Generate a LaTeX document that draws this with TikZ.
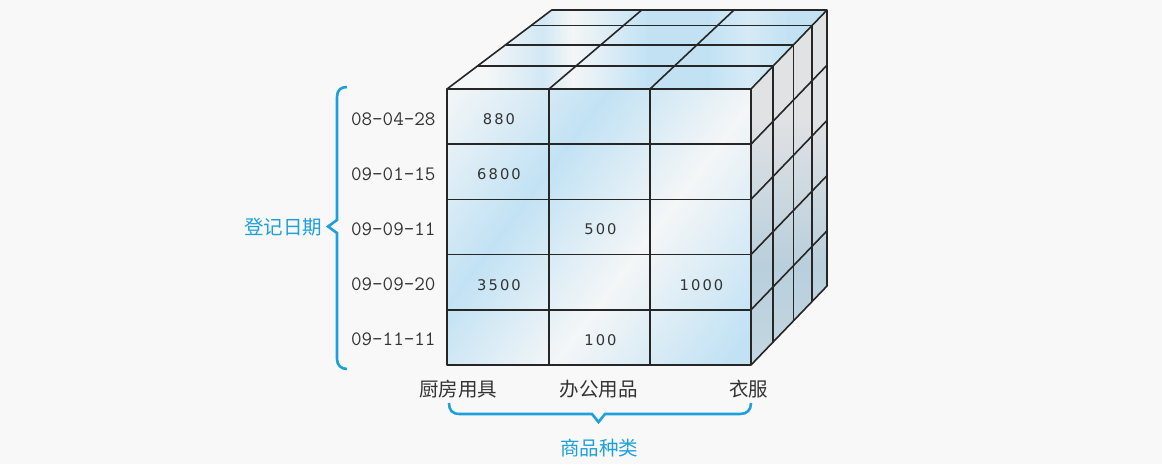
\documentclass[tikz,border=0pt]{standalone}
\usepackage{fontspec}
\newfontfamily\cjk{Noto Sans CJK SC}
\newfontfamily\valfont[LetterSpace=14]{DejaVu Sans}
\usetikzlibrary{calc}
\definecolor{bg}{HTML}{F8F8F8}
\definecolor{gw}{HTML}{F4F6F7}
\definecolor{gb}{HTML}{C2E2F4}
\definecolor{rt}{HTML}{E1E2E4}
\definecolor{rm}{HTML}{B9CFDC}
\definecolor{rb}{HTML}{C4D7E2}
\definecolor{lbl}{HTML}{1EA0DA}
\definecolor{ln}{HTML}{262626}
\definecolor{txt}{HTML}{333333}
\pgfdeclarehorizontalshading{frontglass}{900bp}{color(0bp)=(gw); color(130bp)=(gb); color(250bp)=(gw); color(385bp)=(gb); color(430bp)=(gb)}
\pgfdeclarehorizontalshading{topglass}{300bp}{color(0bp)=(gw); color(40bp)=(gw); color(95bp)=(gb!70!gw); color(125bp)=(gw); color(200bp)=(gb); color(260bp)=(gb); color(300bp)=(gb!60!gw); color(340bp)=(gb); color(400bp)=(gb)}
\pgfdeclareverticalshading{sideshade}{100bp}{color(0bp)=(rb); color(100bp)=(rm); color(250bp)=(rt); color(360bp)=(rt)}
\begin{document}
\begin{tikzpicture}[x=1pt,y=-1pt,
  grid/.style={draw=ln, line width=1.6pt, line join=round},
  datelbl/.style={font=\ttfamily\fontsize{20.5}{20.5}\selectfont, text=txt, anchor=base, inner sep=0},
  val/.style={font=\valfont\fontsize{14.7}{14.7}\selectfont, text=txt, anchor=base, inner sep=0},
  cat/.style={font=\cjk\fontsize{19.5}{19.5}\selectfont, text=txt, inner sep=0},
  axislbl/.style={font=\cjk\fontsize{19.5}{19.5}\selectfont, text=lbl, inner sep=0},
  brace/.style={draw=lbl, line width=2.6pt, line join=miter},
  shd/.style={inner sep=0, outer sep=0}]
\fill[bg] (0,0) rectangle (1162,464);
\useasboundingbox (0,0) rectangle (1162,464);

\coordinate (FTL) at (447,89);
\coordinate (FTR) at (751,89);
\coordinate (FBL) at (447,365);
\coordinate (FBR) at (751,365);
\coordinate (BTL) at (551.7,10);
\coordinate (BTR) at (827,10);
\coordinate (BBR) at (827,286);

% front face fill
\begin{scope}
\clip (FTL) rectangle (FBR);
\node[shd, rotate=-37, anchor=west] at (FTL) {\pgfuseshading{frontglass}};
\end{scope}
% top face fill
\begin{scope}
\clip (FTL) -- (BTL) -- (BTR) -- (FTR) -- cycle;
\node[shd, anchor=west] at (447,50) {\pgfuseshading{topglass}};
\end{scope}
% right face fill
\begin{scope}
\clip (FTR) -- (BTR) -- (BBR) -- (FBR) -- cycle;
\node[shd, anchor=south] at (790,366) {\pgfuseshading{sideshade}};
\end{scope}

% front grid
\draw[grid] (FTL) rectangle (FBR);
\foreach \y in {144.2,199.4,254.6,309.8} \draw[grid] (447,\y) -- (751,\y);
\foreach \x in {549,650} \draw[grid] (\x,89) -- (\x,365);
% top grid
\draw[grid] (FTL) -- (BTL) -- (BTR) -- (FTR);
\foreach \t in {0.293,0.56,0.805} \draw[grid] ($(FTL)!\t!(BTL)$) -- ($(FTR)!\t!(BTR)$);
\draw[grid] (549,89) -- (641.7,10);
\draw[grid] (650,89) -- (734,10);
% right grid
\draw[grid] (BTR) -- (BBR) -- (FBR);
\foreach \t in {0.293,0.56,0.805} \draw[grid] ($(FTR)!\t!(BTR)$) -- ($(FBR)!\t!(BBR)$);
\foreach \y in {144.2,199.4,254.6,309.8} \draw[grid] (751,\y) -- (827,\y-79);

% dates
\node[datelbl] (d1) at (393.3,125) {08-04-28};
\node[datelbl] (d2) at (393.3,180.2) {09-01-15};
\node[datelbl] (d3) at (393.3,235.4) {09-09-11};
\node[datelbl] (d4) at (393.3,290.6) {09-09-20};
\node[datelbl] (d5) at (393.3,345.8) {09-11-11};

% values
\node[val] (v1) at (499,124.5) {880};
\node[val] (v2) at (499,179.7) {6800};
\node[val] (v3) at (600.5,234.9) {500};
\node[val] (v4) at (499,290.1) {3500};
\node[val] (v5) at (701.5,290.1) {1000};
\node[val] (v6) at (600.5,345.3) {100};

% categories
\node[cat] (c1) at (458,389) {厨房用具};
\node[cat] (c2) at (598.5,389) {办公用品};
\node[cat] (c3) at (748.5,389) {衣服};

% axis labels
\node[axislbl] (ay) at (283,227) {登记日期};
\node[axislbl] (ax) at (599,448) {商品种类};

% braces
\draw[brace] (347,87) .. controls (341,87) and (337,90) .. (337,97) -- (337,220) -- (328,226.5) -- (337,233) -- (337,359) .. controls (337,365) and (341,369) .. (347,369);
\draw[brace] (449,403) .. controls (449,410) and (452,414) .. (460,414) -- (592,414) -- (598.5,422) -- (605,414) -- (740,414) .. controls (747,414) and (751,410) .. (751,403);
\end{tikzpicture}
\end{document}
